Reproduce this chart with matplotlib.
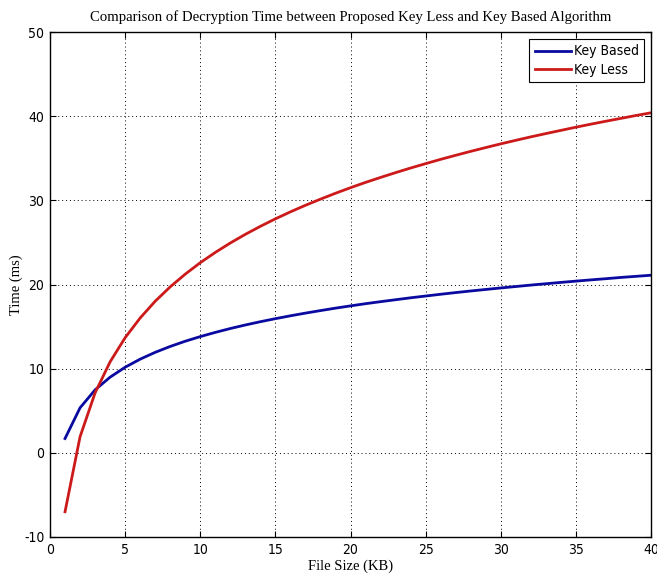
import matplotlib
matplotlib.use('Agg')
import matplotlib.pyplot as plt
from matplotlib import font_manager

plt.rcParams['axes.unicode_minus'] = False

# file sizes (KB)
file_size = list(range(1, 41))

# decryption time (ms)
key_based = [1.7, 5.35, 7.48, 8.99, 10.17, 11.13, 11.94, 12.64, 13.26, 13.81,
             14.31, 14.77, 15.19, 15.58, 15.94, 16.28, 16.60, 16.90, 17.19, 17.46,
             17.72, 17.96, 18.19, 18.42, 18.63, 18.84, 19.04, 19.23, 19.41, 19.59,
             19.76, 19.93, 20.09, 20.25, 20.40, 20.55, 20.69, 20.84, 20.97, 21.10]
key_less = [-7.0, 1.91, 7.12, 10.81, 13.68, 16.02, 18.01, 19.72, 21.23, 22.59,
            23.81, 24.93, 25.96, 26.91, 27.80, 28.63, 29.41, 30.14, 30.84, 31.50,
            32.13, 32.72, 33.29, 33.84, 34.36, 34.87, 35.35, 35.82, 36.27, 36.71,
            37.13, 37.54, 37.93, 38.31, 38.69, 39.05, 39.40, 39.74, 40.08, 40.40]

xticks = [0, 5, 10, 15, 20, 25, 30, 35, 40]
yticks = [-10, 0, 10, 20, 30, 40, 50]

serif = ['Liberation Serif', 'DejaVu Serif']
narrow = font_manager.FontProperties(family='DejaVu Sans', stretch='condensed', size=10)

fig = plt.figure(figsize=(6.57, 5.83), dpi=100)
ax = fig.add_axes([50/657, 1 - 537/583, 601/657, 505/583])

ax.plot(file_size, key_based, color='#0a0aa0', lw=2, label='Key Based')
ax.plot(file_size, key_less, color='#cc1a1a', lw=2, label='Key Less')

ax.set_xlim(0, 40)
ax.set_ylim(-10, 50)
ax.set_xticks(xticks)
ax.set_yticks(yticks)
ax.grid(True, color='black', linestyle=(0, (1, 3)), linewidth=0.7)
ax.tick_params(direction='in', top=True, right=True, length=4, pad=4)
for lab in ax.get_xticklabels() + ax.get_yticklabels():
    lab.set_fontproperties(narrow)
for s in ax.spines.values():
    s.set_linewidth(1)

ax.set_title('Comparison of Decryption Time between Proposed Key Less and Key Based Algorithm',
             family=serif, fontsize=10.6, pad=8)
ax.set_xlabel('File Size (KB)', family=serif, fontsize=10.5, labelpad=2)
ax.set_ylabel('Time (ms)', family=serif, fontsize=10.5)
ax.yaxis.set_label_coords(-0.045, 0.5)

leg = ax.legend(loc='upper right', fancybox=False, framealpha=1, edgecolor='black',
                prop=narrow, handlelength=2.6,
                borderaxespad=0.5, labelspacing=0.3, handletextpad=0.2, borderpad=0.4)
leg.get_frame().set_linewidth(0.8)

fig.savefig('out.png', dpi=100)
